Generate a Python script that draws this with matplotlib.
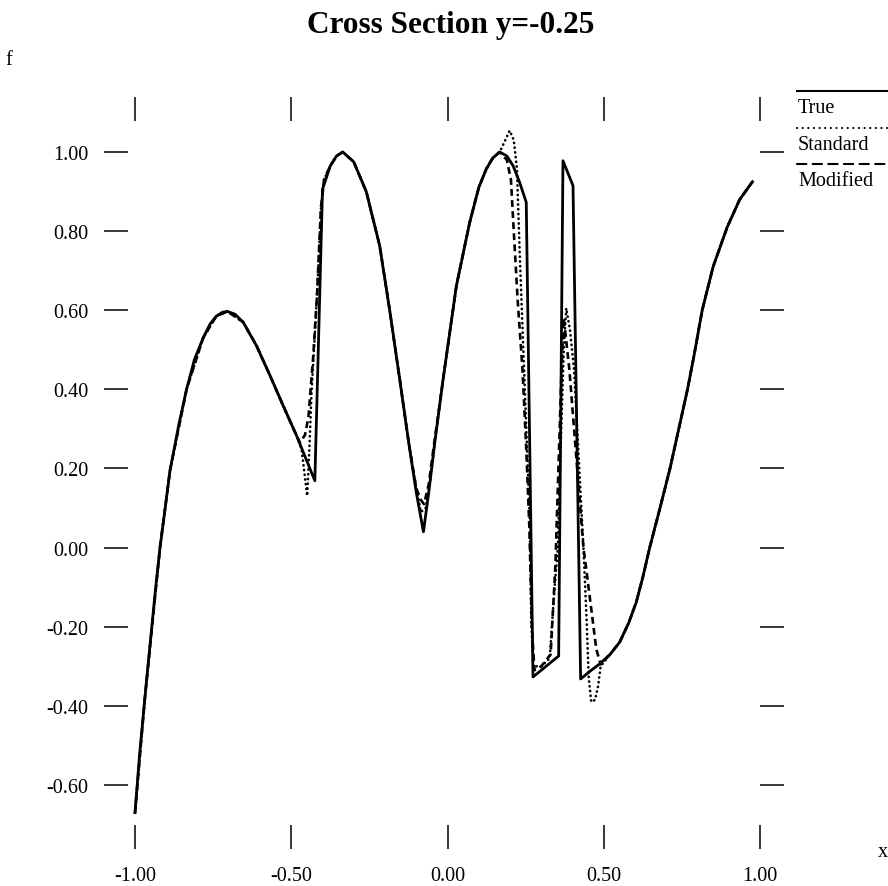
import matplotlib
matplotlib.use('Agg')
import matplotlib.pyplot as plt
from matplotlib.lines import Line2D

# values
x_true = [-1.0, -0.985, -0.968, -0.95, -0.935, -0.92, -0.905, -0.888, -0.86, -0.835,
          -0.81, -0.782, -0.76, -0.74, -0.72, -0.704, -0.68, -0.654, -0.611, -0.568,
          -0.526, -0.483, -0.4245, -0.400, -0.375, -0.355, -0.335, -0.30, -0.26, -0.217,
          -0.185, -0.153, -0.125, -0.10, -0.077, -0.06, -0.04, -0.014, 0.0285, 0.071,
          0.10, 0.124, 0.145, 0.167, 0.19, 0.21, 0.23, 0.252, 0.2736, 0.3557,
          0.3695, 0.4016, 0.426, 0.46, 0.487, 0.52, 0.551, 0.58, 0.604, 0.625,
          0.647, 0.68, 0.712, 0.74, 0.768, 0.79, 0.815, 0.85, 0.895, 0.935, 0.976]
f_true = [-0.67, -0.52, -0.377, -0.23, -0.11, 0.0, 0.09, 0.195, 0.31, 0.40,
          0.475, 0.53, 0.565, 0.585, 0.595, 0.597, 0.59, 0.570, 0.510, 0.435,
          0.359, 0.283, 0.169, 0.906, 0.965, 0.99, 1.0, 0.975, 0.90, 0.763,
          0.60, 0.426, 0.27, 0.14, 0.04, 0.14, 0.27, 0.426, 0.662, 0.822,
          0.91, 0.957, 0.985, 1.0, 0.99, 0.965, 0.925, 0.873, -0.327, -0.274,
          0.978, 0.915, -0.332, -0.31, -0.294, -0.27, -0.239, -0.19, -0.138, -0.075,
          0.0, 0.10, 0.2, 0.30, 0.40, 0.49, 0.6, 0.71, 0.81, 0.88, 0.925]

x_std = [-1.0, -0.968, -0.92, -0.888, -0.835, -0.782, -0.74, -0.704, -0.654, -0.611,
         -0.568, -0.526, -0.483, -0.467, -0.449, -0.442, -0.435, -0.417, -0.405, -0.395,
         -0.375, -0.355, -0.335, -0.30, -0.26, -0.217, -0.185, -0.153, -0.125, -0.10,
         -0.085, -0.07, -0.055, -0.04, -0.014, 0.0285, 0.071, 0.10, 0.124, 0.145,
         0.167, 0.185, 0.199, 0.212, 0.222, 0.231, 0.247, 0.263, 0.268, 0.274,
         0.30, 0.327, 0.34, 0.353, 0.362, 0.372, 0.380, 0.392, 0.405, 0.415,
         0.425, 0.435, 0.445, 0.452, 0.46, 0.472, 0.482, 0.49, 0.52, 0.551,
         0.58, 0.604, 0.625, 0.647, 0.68, 0.712, 0.74, 0.768, 0.79, 0.815,
         0.85, 0.895, 0.935, 0.976]
f_std = [-0.67, -0.377, 0.0, 0.195, 0.40, 0.53, 0.585, 0.597, 0.570, 0.510,
         0.435, 0.359, 0.283, 0.249, 0.131, 0.25, 0.393, 0.646, 0.856, 0.93,
         0.965, 0.99, 1.0, 0.975, 0.90, 0.763, 0.60, 0.426, 0.27, 0.15,
         0.09, 0.10, 0.17, 0.27, 0.426, 0.662, 0.822, 0.91, 0.957, 0.985,
         1.0, 1.03, 1.054, 1.03, 0.96, 0.746, 0.41, 0.072, -0.18, -0.30,
         -0.30, -0.28, -0.13, 0.0, 0.25, 0.50, 0.605, 0.55, 0.45, 0.30,
         0.15, 0.0, -0.18, -0.33, -0.39, -0.385, -0.35, -0.30, -0.27, -0.239,
         -0.19, -0.138, -0.075, 0.0, 0.10, 0.2, 0.30, 0.40, 0.49, 0.6,
         0.71, 0.81, 0.88, 0.925]

x_mod = [-1.0, -0.968, -0.92, -0.888, -0.835, -0.782, -0.74, -0.704, -0.654, -0.611,
         -0.568, -0.526, -0.483, -0.472, -0.456, -0.445, -0.43, -0.417, -0.405, -0.395,
         -0.375, -0.355, -0.335, -0.30, -0.26, -0.217, -0.185, -0.153, -0.125, -0.10,
         -0.085, -0.075, -0.06, -0.045, -0.014, 0.0285, 0.071, 0.10, 0.124, 0.145,
         0.167, 0.19, 0.203, 0.212, 0.225, 0.24, 0.252, 0.262, 0.27, 0.278,
         0.30, 0.33, 0.345, 0.355, 0.365, 0.372, 0.39, 0.41, 0.425, 0.435,
         0.444, 0.46, 0.476, 0.49, 0.52, 0.551, 0.58, 0.604, 0.625, 0.647,
         0.68, 0.712, 0.74, 0.768, 0.79, 0.815, 0.85, 0.895, 0.935, 0.976]
f_mod = [-0.67, -0.377, 0.0, 0.195, 0.40, 0.53, 0.585, 0.597, 0.570, 0.510,
         0.435, 0.359, 0.283, 0.265, 0.285, 0.33, 0.48, 0.646, 0.86, 0.93,
         0.965, 0.99, 1.0, 0.975, 0.90, 0.763, 0.60, 0.426, 0.27, 0.15,
         0.12, 0.11, 0.16, 0.25, 0.426, 0.662, 0.822, 0.91, 0.957, 0.985,
         1.0, 0.98, 0.93, 0.80, 0.62, 0.45, 0.25, 0.05, -0.2, -0.31,
         -0.30, -0.27, -0.05, 0.2, 0.45, 0.58, 0.45, 0.25, 0.10, 0.0,
         -0.054, -0.155, -0.256, -0.295, -0.27, -0.239, -0.19, -0.138, -0.075, 0.0,
         0.10, 0.2, 0.30, 0.40, 0.49, 0.6, 0.71, 0.81, 0.88, 0.925]

xticks = [-1.0, -0.5, 0.0, 0.5, 1.0]
yticks = [-0.6, -0.4, -0.2, 0.0, 0.2, 0.4, 0.6, 0.8, 1.0]
legend_labels = ['True', 'Standard', 'Modified']

W, H = 888, 887
plt.rcParams['font.family'] = ['Liberation Serif', 'DejaVu Serif']

fig = plt.figure(figsize=(W / 100, H / 100), dpi=100)
ax = fig.add_axes([128 / W, 1 - 826 / H, 632 / W, 704 / H])

ax.plot(x_true, f_true, color='black', lw=2.0)
ax.plot(x_std, f_std, color='black', lw=1.9, linestyle=(0, (0.1, 1.7)),
        dash_capstyle='round')
ax.plot(x_mod, f_mod, color='black', lw=1.9, linestyle=(0, (2.6, 1.6)))

ax.set_xlim(-1.0224, 1.0)
ax.set_ylim(-0.7012, 1.0784)
for s in ax.spines.values():
    s.set_visible(False)

ax.set_xticks(xticks)
ax.set_xticklabels([f'{v:.2f}' for v in xticks])
ax.set_yticks(yticks)
ax.set_yticklabels([f'{v:.2f}' for v in yticks])
ax.tick_params(axis='x', bottom=True, top=True, labelbottom=True, labeltop=False,
               direction='out', length=17.5, width=1.1, pad=12, labelsize=14.5)
ax.tick_params(axis='y', left=True, right=True, labelleft=True, labelright=False,
               direction='out', length=17.5, width=1.1, pad=11, labelsize=14.5)

fig.text(451 / W, 1 - 33 / H, 'Cross Section y=-0.25', ha='center', va='baseline',
         fontsize=22.5, fontweight='bold')
fig.text(5 / W, 1 - 65 / H, 'f', va='baseline', fontsize=14.5)
fig.text(878 / W, 1 - 857 / H, 'x', va='baseline', fontsize=14.5)

# legend: sample line above each label
styles = ['-', (0, (0.1, 2.6)), (0, (4.5, 3))]
for i, (lab, ls) in enumerate(zip(legend_labels, styles)):
    ly = 92 + i * 36.5
    fig.add_artist(Line2D([797 / W, 1.0], [1 - ly / H, 1 - ly / H], transform=fig.transFigure,
                          color='black', lw=1.5, linestyle=ls, dash_capstyle='round'))
    fig.text(798 / W, 1 - (ly + 21) / H, lab, va='baseline', fontsize=14.5)

fig.savefig('out.png', dpi=100)
